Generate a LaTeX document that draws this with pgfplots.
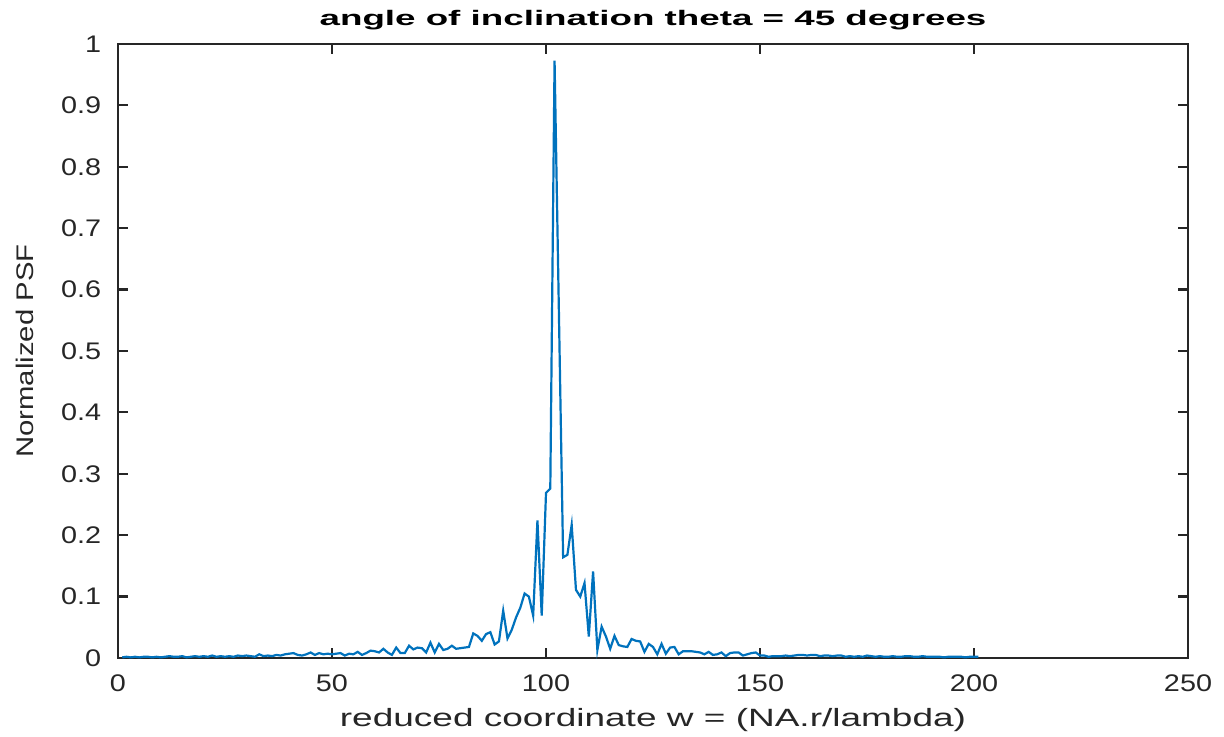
\documentclass[border=0pt]{standalone}
\usepackage{fontspec}
\setmainfont{Liberation Sans}
\usepackage{pgfplots}
\pgfplotsset{compat=1.18}
\definecolor{mblue}{rgb}{0,0.447,0.741}
\definecolor{mgray}{rgb}{0.15,0.15,0.15}
\begin{document}
\begin{tikzpicture}
\begin{axis}[
    scale only axis,
    width=535pt, height=307pt,
    xmin=0, xmax=250, ymin=0, ymax=1,
    xtick={0,50,...,250},
    ytick={0,0.1,...,1},
    yticklabel style={/pgf/number format/fixed, xshift=-3.5pt},
    xticklabel style={yshift=-5pt},
    /pgf/number format/assume math mode=true,
    tick align=inside,
    major tick length=5pt,
    axis line style={line width=1.1pt, mgray},
    tick style={line width=1.1pt, mgray},
    ticklabel style={font=\fontsize{12}{14}\selectfont, text=mgray, xscale=1.2},
    title={\bfseries angle of inclination theta = 45 degrees},
    title style={font=\fontsize{10.5}{12}\selectfont, at={(axis description cs:0.5,1.010)}, anchor=base, xscale=1.75},
    xlabel={reduced coordinate w = (NA.r/lambda)},
    xlabel style={font=\fontsize{12.5}{14}\selectfont, text=mgray, at={(axis description cs:0.5,-0.112)}, anchor=base, xscale=1.48},
    ylabel={Normalized PSF},
    ylabel style={font=\fontsize{12}{14}\selectfont, text=mgray, at={(axis description cs:-0.087,0.5)}, anchor=center, xscale=1.22},
]
\coordinate (A) at (rel axis cs:0,0);
\coordinate (B) at (rel axis cs:1,1);
\addplot[color=mblue, line width=1.1pt] coordinates {
(1,0.001) (2,0.002) (3,0.001) (4,0.002) (5,0.001) (6,0.002) (7,0.002) (8,0.001) (9,0.002) (10,0.001)
(11,0.002) (12,0.003) (13,0.002) (14,0.002) (15,0.003) (16,0.001) (17,0.002) (18,0.003) (19,0.002) (20,0.003)
(21,0.002) (22,0.004) (23,0.002) (24,0.003) (25,0.002) (26,0.003) (27,0.002) (28,0.004) (29,0.003) (30,0.004)
(31,0.003) (32,0.002) (33,0.006) (34,0.003) (35,0.004) (36,0.003) (37,0.005) (38,0.004) (39,0.006) (40,0.007)
(41,0.008) (42,0.005) (43,0.004) (44,0.006) (45,0.009) (46,0.005) (47,0.008) (48,0.006) (49,0.007) (50,0.006)
(51,0.007) (52,0.008) (53,0.004) (54,0.007) (55,0.006) (56,0.010) (57,0.005) (58,0.008) (59,0.012) (60,0.011)
(61,0.009) (62,0.015) (63,0.009) (64,0.005) (65,0.017) (66,0.008) (67,0.008) (68,0.020) (69,0.014) (70,0.017)
(71,0.016) (72,0.009) (73,0.025) (74,0.009) (75,0.023) (76,0.013) (77,0.015) (78,0.020) (79,0.015) (80,0.016)
(81,0.017) (82,0.018) (83,0.040) (84,0.036) (85,0.028) (86,0.039) (87,0.042) (88,0.022) (89,0.027) (90,0.077)
(91,0.032) (92,0.046) (93,0.066) (94,0.082) (95,0.105) (96,0.100) (97,0.069) (98,0.224) (99,0.069) (100,0.269)
(101,0.276) (102,0.973) (104,0.164) (105,0.168) (106,0.217) (107,0.111) (108,0.100) (109,0.122) (110,0.035)
(111,0.141) (112,0.013) (113,0.051) (114,0.035) (115,0.015) (116,0.036) (117,0.021) (118,0.019) (119,0.018) (120,0.031)
(121,0.028) (122,0.027) (123,0.010) (124,0.023) (125,0.018) (126,0.006) (127,0.023) (128,0.007) (129,0.017) (130,0.018)
(131,0.006) (132,0.011) (133,0.011) (134,0.011) (135,0.010) (136,0.009) (137,0.006) (138,0.010) (139,0.005) (140,0.006)
(141,0.009) (142,0.003) (143,0.008) (144,0.009) (145,0.009) (146,0.004) (147,0.006) (148,0.008) (149,0.009) (150,0.004)
(151,0.004) (152,0.002) (153,0.003) (154,0.003) (155,0.003) (156,0.004) (157,0.003) (158,0.004) (159,0.005) (160,0.005)
(161,0.004) (162,0.005) (163,0.005) (164,0.003) (165,0.004) (166,0.004) (167,0.003) (168,0.004) (169,0.004) (170,0.002)
(171,0.003) (172,0.002) (173,0.003) (174,0.002) (175,0.004) (176,0.003) (177,0.002) (178,0.003) (179,0.002) (180,0.002)
(181,0.003) (182,0.002) (183,0.002) (184,0.003) (185,0.003) (186,0.002) (187,0.002) (188,0.003) (189,0.002) (190,0.002)
(191,0.002) (192,0.002) (193,0.001) (194,0.002) (195,0.002) (196,0.002) (197,0.002) (198,0.001) (199,0.002) (200,0.002)
(201,0.002)
};
\end{axis}
\pgfresetboundingbox
\path[use as bounding box] ([shift={(-59pt,-39.5pt)}]A) rectangle ([shift={(18pt,22pt)}]B);
\end{tikzpicture}
\end{document}
